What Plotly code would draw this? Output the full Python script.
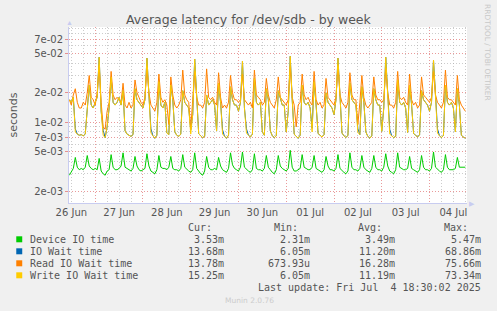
import plotly.graph_objects as go
import pandas as pd

# ---- data (milliseconds, hourly samples from 26 Jun 11:00) ----
start_time = "2025-06-26 11:00"

device_ms = [
    2.9, 3.1, 3.4, 4.4, 3.5, 3.3,  3.4, 3.3, 3.5, 4.6, 3.6, 3.4,  3.3, 3.4, 3.3, 4.3, 3.2, 3.0,
    2.9, 3.2, 3.3, 4.7, 3.5, 3.3,  3.3, 3.4, 3.6, 4.9, 3.5, 3.4,  3.3, 3.2, 3.4, 4.5, 3.6, 3.3,
    3.2, 3.3, 3.4, 4.8, 3.6, 3.2,  3.1, 3.0, 3.3, 4.6, 3.5, 3.4,  3.4, 3.3, 3.5, 4.5, 3.4, 3.3,
    3.3, 3.2, 3.4, 4.7, 3.5, 3.3,  3.2, 3.1, 3.3, 4.9, 3.4, 3.2,  3.0, 2.9, 3.2, 4.5, 3.5, 3.3,
    3.3, 3.4, 3.3, 4.4, 3.6, 3.3,  3.2, 3.1, 3.4, 4.9, 3.7, 3.4,  3.3, 3.2, 3.5, 5.0, 3.5, 3.3,
    3.2, 3.1, 3.3, 4.8, 3.4, 3.3,  3.3, 3.2, 3.4, 4.6, 3.5, 3.3,  3.1, 3.0, 3.3, 4.6, 3.6, 3.4,
    3.3, 3.2, 3.4, 5.2, 3.5, 3.2,  3.2, 3.3, 3.4, 4.7, 3.5, 3.4,  3.3, 3.3, 3.5, 4.6, 3.4, 3.3,
    3.2, 3.1, 3.3, 4.5, 3.6, 3.3,  3.3, 3.2, 3.4, 4.7, 3.4, 3.2,  3.1, 3.0, 3.2, 4.9, 3.5, 3.3,
    3.3, 3.2, 3.4, 4.6, 3.5, 3.3,  3.2, 3.1, 3.4, 4.6, 3.5, 3.3,  3.3, 3.2, 3.5, 4.8, 3.6, 3.2,
    3.1, 3.0, 3.3, 4.9, 3.5, 3.4,  3.3, 3.3, 3.4, 4.5, 3.4, 3.3,  3.2, 3.1, 3.3, 4.6, 3.5, 3.3,
    3.3, 3.2, 3.4, 5.0, 3.5, 3.3,  3.2, 3.1, 3.3, 4.7, 3.5, 3.3,  3.3, 3.3, 3.4, 4.4, 3.5, 3.5,
    3.5, 3.5,
]

iowait_ms = [
    17, 16, 18, 8.6, 7.6, 7.4,  7.5, 7.3, 7.6, 13, 24, 15,  14, 16, 18, 46, 13, 8.3,
    7.0, 9, 14, 29, 16, 15,  16, 18, 15, 21, 8.2, 7.6,  7.4, 7.2, 7.5, 22, 17, 16,
    15, 14, 17, 45, 19, 8.6,  7.3, 6.9, 7.4, 26, 15, 14,  16, 7.8, 7.5, 24, 17, 8,
    7.4, 7.2, 7.6, 21, 16, 15,  14, 8.4, 12, 44, 18, 7.7,  7.3, 7.0, 7.2, 19, 15, 16,
    17, 15, 8.2, 25, 16, 8.4,  7.2, 6.9, 7.4, 23, 17, 15,  15, 13, 16, 42, 14, 8.6,
    7.4, 7.1, 7.6, 28, 16, 15,  16, 8.0, 7.4, 22, 17, 8.2,  7.3, 7.0, 7.3, 21, 18, 15,
    15, 8.0, 13, 47, 17, 7.6,  7.2, 6.9, 7.4, 24, 16, 15,  16, 14, 8.7, 26, 15, 7.7,
    7.4, 7.1, 7.5, 20, 16, 15,  14, 12, 17, 45, 16, 7.8,  7.3, 7.0, 7.4, 25, 17, 16,
    15, 8.6, 7.5, 23, 16, 8.0,  7.2, 6.9, 7.3, 22, 17, 15,  15, 8.1, 14, 46, 18, 8.5,
    7.3, 7.0, 7.2, 27, 16, 15,  16, 14, 7.9, 24, 15, 7.7,  7.4, 7.1, 7.5, 21, 17, 16,
    15, 13, 16, 43, 17, 8.6,  7.3, 7.0, 7.4, 24, 16, 15,  16, 14, 8.0, 22, 15, 7.4,
    7.1, 6.9,
]

read_ms = [
    17, 15, 19, 22, 16, 14,  14, 16, 15, 20, 30, 18,  17, 15, 20, 38, 16, 9,
    8.5, 13, 16, 33, 19, 17,  18, 17, 16, 25, 15, 14,  16, 14, 15, 27, 20, 18,
    16, 15, 18, 36, 20, 15,  14, 13, 16, 31, 18, 16,  17, 15, 9.5, 29, 19, 15,
    14, 15, 17, 34, 19, 17,  16, 8.5, 17, 33, 18, 15,  15, 14, 16, 35, 18, 17,
    18, 16, 15, 32, 18, 14,  15, 14, 16, 30, 20, 17,  17, 16, 17, 31, 17, 16,
    15, 16, 14, 34, 19, 18,  17, 15, 16, 28, 19, 16,  15, 14, 17, 29, 18, 17,
    16, 15, 17, 37, 18, 15,  9.0, 15, 16, 31, 19, 17,  18, 16, 15, 33, 17, 15,
    16, 14, 15, 28, 18, 17,  16, 15, 18, 38, 19, 16,  15, 14, 16, 32, 19, 17,
    17, 9.5, 16, 30, 18, 15,  14, 15, 16, 29, 19, 17,  17, 16, 17, 36, 20, 15,
    15, 14, 16, 33, 18, 17,  18, 16, 15, 31, 17, 15,  16, 14, 15, 29, 19, 18,
    17, 16, 18, 33, 19, 16,  15, 14, 16, 34, 18, 17,  17, 16, 15, 30, 17, 15,
    14, 13,
]

write_ms = [
    17, 16, 18, 8.0, 7.6, 7.4,  7.5, 7.3, 7.6, 13, 24, 15,  14, 16, 18, 46, 13, 7.4,
    7.0, 9, 14, 29, 16, 15,  16, 18, 15, 21, 8.2, 7.6,  7.4, 7.2, 7.5, 22, 17, 16,
    15, 14, 17, 45, 19, 7.8,  7.3, 6.9, 7.4, 26, 15, 14,  16, 7.8, 7.5, 24, 17, 8,
    7.4, 7.2, 7.6, 21, 16, 15,  14, 7.6, 12, 44, 18, 7.7,  7.3, 7.0, 7.2, 19, 15, 16,
    17, 15, 8.2, 25, 16, 7.6,  7.2, 6.9, 7.4, 23, 17, 15,  15, 13, 16, 42, 14, 7.8,
    7.4, 7.1, 7.6, 28, 16, 15,  16, 8.0, 7.4, 22, 17, 8.2,  7.3, 7.0, 7.3, 21, 18, 15,
    15, 8.0, 13, 47, 17, 7.6,  7.2, 6.9, 7.4, 24, 16, 15,  16, 14, 8.0, 26, 15, 7.7,
    7.4, 7.1, 7.5, 20, 16, 15,  14, 12, 17, 45, 16, 7.8,  7.3, 7.0, 7.4, 25, 17, 16,
    15, 7.9, 7.5, 23, 16, 8.0,  7.2, 6.9, 7.3, 22, 17, 15,  15, 8.1, 14, 46, 18, 7.6,
    7.3, 7.0, 7.2, 27, 16, 15,  16, 14, 7.9, 24, 15, 7.7,  7.4, 7.1, 7.5, 21, 17, 16,
    15, 13, 16, 43, 17, 7.8,  7.3, 7.0, 7.4, 24, 16, 15,  16, 14, 8.0, 22, 15, 7.4,
    7.1, 6.9,
]

series_names = ["Device IO time", "IO Wait time", "Read IO Wait time", "Write IO Wait time"]
series_colors = ["#00CC00", "#0066B3", "#FF8000", "#FFCC00"]
stat_cur = ["3.53m", "13.68m", "13.78m", "15.25m"]
stat_min = ["2.31m", "6.05m", "673.93u", "6.05m"]
stat_avg = ["3.49m", "11.20m", "16.28m", "11.19m"]
stat_max = ["5.47m", "68.86m", "75.66m", "73.34m"]

y_tickvals = [0.002, 0.005, 0.007, 0.01, 0.02, 0.05, 0.07]
y_ticktext = ["2e-03", "5e-03", "7e-03", "1e-02", "2e-02", "5e-02", "7e-02"]
y_minorvals = [0.003, 0.004, 0.006, 0.008, 0.009, 0.03, 0.04, 0.06, 0.08, 0.09]
x_label_days = pd.date_range("2025-06-26 12:00", "2025-07-04 12:00", freq="D")
x_ticktext = [d.strftime("%d %b") for d in x_label_days]

# ---- figure ----
W, H = 497, 311
L, R, T, B = 67, 30, 27, 108
PW, PH = W - L - R, H - T - B

def px(x):
    return (x - L) / PW

def py(y):
    return (T + PH - y) / PH

times = pd.date_range(start_time, periods=len(device_ms), freq="h")
all_series = [device_ms, iowait_ms, read_ms, write_ms]

fig = go.Figure()
for name, color, vals in zip(series_names, series_colors, all_series):
    fig.add_trace(go.Scatter(
        x=times, y=[v / 1000.0 for v in vals], mode="lines", name=name,
        line=dict(color=color, width=1), hoverinfo="skip",
    ))
# carrier for the grid axis
fig.add_trace(go.Scatter(x=[times[0]], y=[0.01], xaxis="x2", mode="markers",
                         marker=dict(opacity=0), hoverinfo="skip", showlegend=False))

xr = ["2025-06-26 10:50", "2025-07-04 18:50"]
grid_major = "rgba(225,120,120,0.75)"
grid_minor = "rgba(170,170,170,0.6)"
tick_font = dict(family="DejaVu Sans", size=10, color="#555555")

fig.update_layout(
    width=W, height=H,
    margin=dict(l=L, r=R, t=T, b=B),
    paper_bgcolor="#F0F0F0", plot_bgcolor="#FFFFFF",
    showlegend=False,
    xaxis=dict(
        range=xr, tickmode="array", tickvals=list(x_label_days), ticktext=x_ticktext,
        showgrid=False, zeroline=False, ticks="", tickfont=tick_font,
        showline=True, linecolor="#C8CCF0", linewidth=1,
    ),
    xaxis2=dict(
        range=xr, overlaying="x", tick0="2025-06-27 00:00", dtick=86400000,
        showgrid=True, gridcolor=grid_major, griddash="1px,2px", gridwidth=1,
        showticklabels=False, ticks="", zeroline=False,
        minor=dict(dtick=21600000, tick0="2025-06-27 00:00", showgrid=True,
                   gridcolor=grid_minor, griddash="1px,2px", gridwidth=1),
    ),
    yaxis=dict(
        type="log", range=[-2.820, -1.0298],
        tickmode="array", tickvals=y_tickvals, ticktext=y_ticktext,
        showgrid=True, gridcolor=grid_major, griddash="1px,2px", gridwidth=1,
        minor=dict(tickmode="array", tickvals=y_minorvals, showgrid=True,
                   gridcolor=grid_minor, griddash="1px,2px", gridwidth=1),
        ticks="outside", ticklen=3, tickcolor="rgba(225,120,120,0.8)",
        tickfont=tick_font, zeroline=False,
        showline=True, linecolor="#C8CCF0", linewidth=1,
        title=dict(text="seconds", font=dict(family="DejaVu Sans", size=11, color="#555555"),
                   standoff=14),
    ),
)

ann = []
# title
ann.append(dict(x=px(248), y=py(19), text="Average latency for /dev/sdb - by week",
                font=dict(family="DejaVu Sans", size=12.5, color="#555555"),
                xanchor="center", yanchor="middle"))
# axis arrows
ann.append(dict(x=px(67), y=py(22.5), text="▲", font=dict(size=7, color="#C8CCF0"),
                xanchor="center", yanchor="middle"))
ann.append(dict(x=px(472), y=py(203), text="▶", font=dict(size=7, color="#C8CCF0"),
                xanchor="center", yanchor="middle"))
# rrdtool watermark
ann.append(dict(x=px(488), y=py(53), text="RRDTOOL / TOBI OETIKER", textangle=90,
                font=dict(family="DejaVu Sans", size=7.5, color="#C8C8C8"),
                xanchor="center", yanchor="middle"))

mono = dict(family="DejaVu Sans Mono", size=10, color="#555555")
header_y = 227.5
for text, xr_ in zip(["Cur:", "Min:", "Avg:", "Max:"], [213, 299, 384, 470]):
    ann.append(dict(x=px(xr_), y=py(header_y), text=text, font=mono,
                    xanchor="right", yanchor="middle"))
row_ys = [239.3, 251.3, 263.3, 275.3]
shapes = []
for i, (name, color) in enumerate(zip(series_names, series_colors)):
    yy = row_ys[i]
    shapes.append(dict(type="rect", xref="paper", yref="paper",
                       x0=px(14), x1=px(20), y0=py(yy + 3), y1=py(yy - 3),
                       fillcolor=color, line=dict(width=0)))
    ann.append(dict(x=px(26), y=py(yy), text=name, font=mono,
                    xanchor="left", yanchor="middle"))
    for vals, xr_ in zip([stat_cur, stat_min, stat_avg, stat_max], [225, 311, 397, 483]):
        ann.append(dict(x=px(xr_), y=py(yy), text=vals[i], font=mono,
                        xanchor="right", yanchor="middle"))
ann.append(dict(x=px(483), y=py(287.3), text="Last update: Fri Jul  4 18:30:02 2025",
                font=mono, xanchor="right", yanchor="middle"))
ann.append(dict(x=px(248), y=py(300.5), text="Munin 2.0.76",
                font=dict(family="DejaVu Sans", size=7.5, color="#CCCCCC"),
                xanchor="center", yanchor="middle"))

for a in ann:
    a.update(xref="paper", yref="paper", showarrow=False)
fig.update_layout(annotations=ann, shapes=shapes)

fig.write_html("out.html")
